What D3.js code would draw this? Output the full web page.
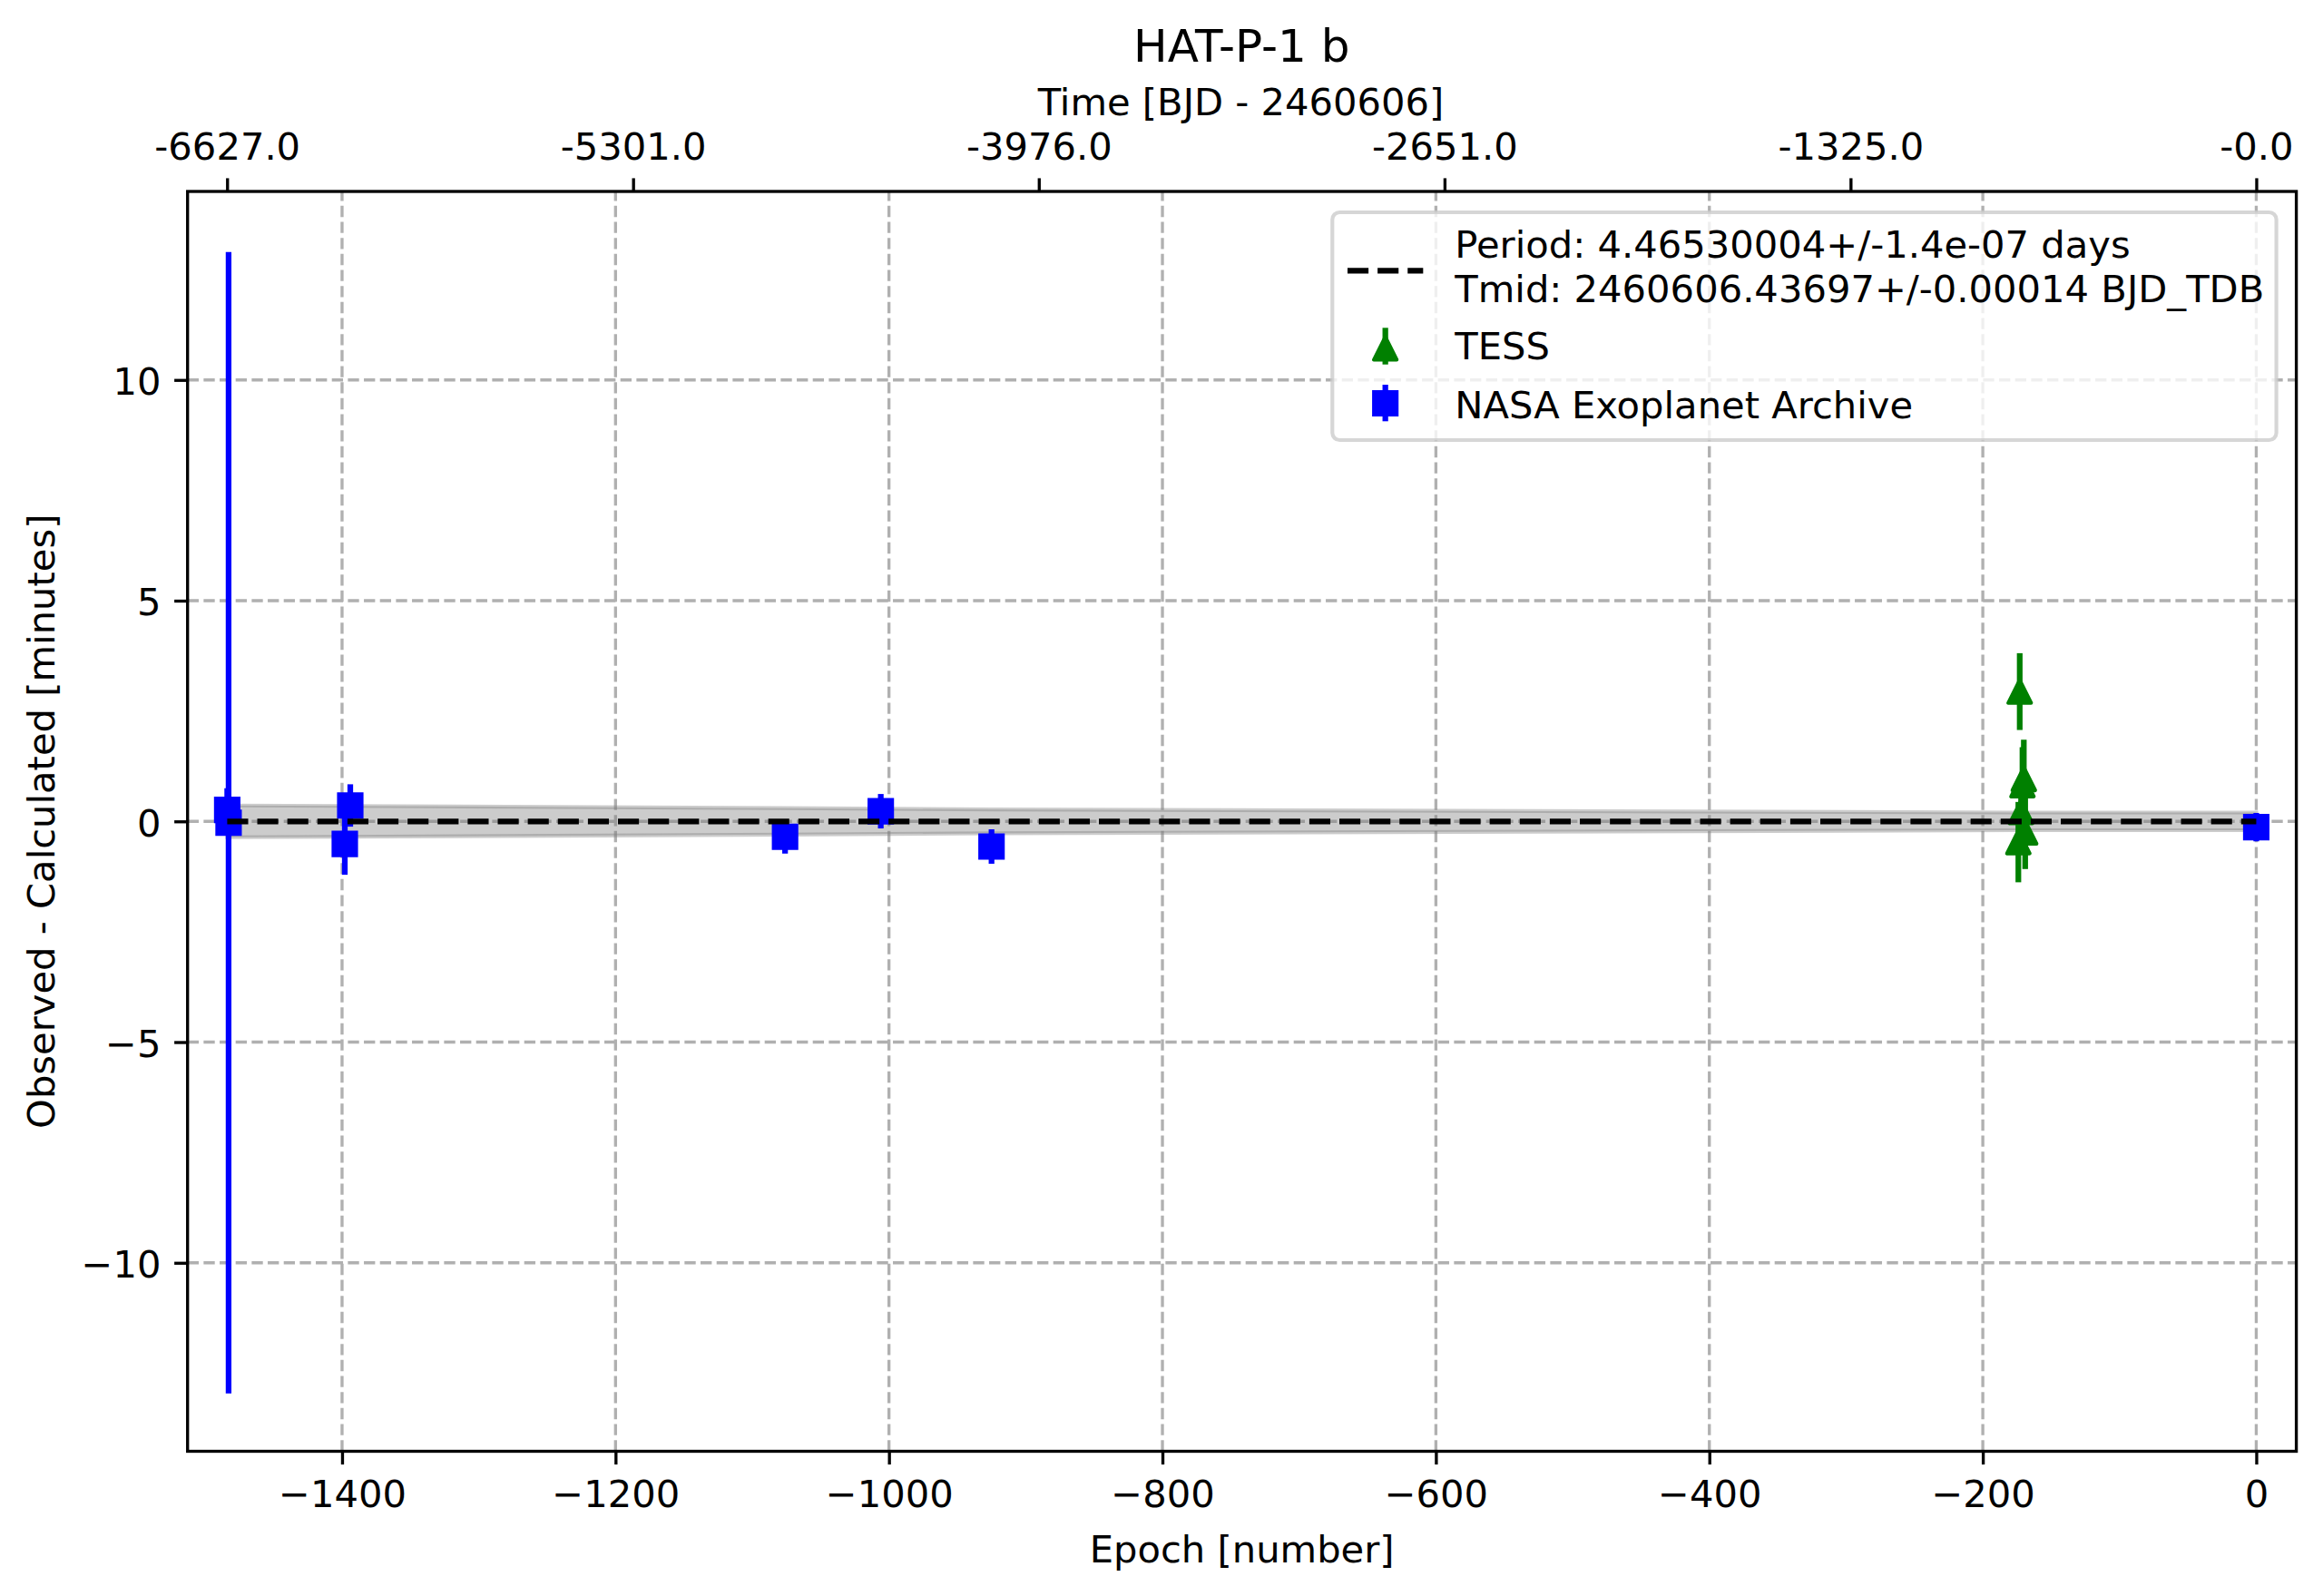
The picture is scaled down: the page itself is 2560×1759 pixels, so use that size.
<!DOCTYPE html>
<html>
<head>
<meta charset="utf-8">
<script src="https://cdn.jsdelivr.net/npm/d3@7"></script>
<style>
  body { margin: 0; background: #ffffff; }
  svg text { font-family: 'DejaVu Sans', sans-serif; fill: #000000; }
</style>
</head>
<body>
<svg id="chart" width="2560" height="1759"></svg>
<script>

var period = 4.46530004;

var nasaEpoch = [-1484, -1483, -1398, -1394, -1076, -1006, -925, 0];
var nasaOC    = [0.26, -0.03, -0.51, 0.36, -0.35, 0.23, -0.57, -0.13];
var nasaErr   = [0.49, 12.93, 0.70, 0.48, 0.38, 0.39, 0.39, 0.32];

var tessEpoch = [-174, -173, -172, -171, -170, -169];
var tessOC    = [-0.47, 2.94, 0.21, 0.82, 0.96, -0.25];
var tessErr   = [0.91, 0.87, 0.80, 0.86, 0.89, 0.83];

// ephemeris uncertainty band (minutes)
var bandEpoch = [-1484, -1398, -1076, -925, -174, 0];
var bandHalf  = [0.36, 0.35, 0.30, 0.27, 0.20, 0.20];

var fitEpoch = [-1484, 0];
var fitOC    = [0, 0];

var bottomTicks   = [-1400, -1200, -1000, -800, -600, -400, -200, 0];
var leftTicks     = [-10, -5, 0, 5, 10];
var topTickTimes  = [-6627, -5301, -3976, -2651, -1325, 0];
var topTickLabels = ["-6627.0", "-5301.0", "-3976.0", "-2651.0", "-1325.0", "-0.0"];

var legendLabels = [
  ["Period: 4.46530004+/-1.4e-07 days", "Tmid: 2460606.43697+/-0.00014 BJD_TDB"],
  ["TESS"],
  ["NASA Exoplanet Archive"]
];

//:\\\ layout //:\\\

var pt = 300 / 72;           // figure was saved at 300 dpi
var fontSize = 10 * pt;      // 41.67px
var axLeft = 206.7, axRight = 2530.6, axTop = 211, axBottom = 1599.5;

var svg = d3.select("#chart");

var x = d3.scaleLinear().domain([-1513.0, 29.3]).range([axLeft, axRight]);
var y = d3.scaleLinear().domain([-14.27, 14.27]).range([axBottom, axTop]);
var xTop = d3.scaleLinear()
             .domain(x.domain().map(function(e) { return e * period; }))
             .range(x.range());

svg.append("defs").append("clipPath").attr("id", "plotArea")
   .append("rect")
   .attr("x", axLeft).attr("y", axTop)
   .attr("width", axRight - axLeft).attr("height", axBottom - axTop);

//:\\\ grid //:\\\

var grid = svg.append("g")
              .attr("stroke", "#b0b0b0")
              .attr("stroke-width", 0.8 * pt)
              .attr("stroke-dasharray", (3.7 * 0.8 * pt) + "," + (1.6 * 0.8 * pt));

grid.selectAll(".vgrid").data(bottomTicks).enter()
    .append("line")
    .attr("x1", function(d) { return x(d); })
    .attr("x2", function(d) { return x(d); })
    .attr("y1", axBottom).attr("y2", axTop);

grid.selectAll(".hgrid").data(leftTicks).enter()
    .append("line")
    .attr("x1", axLeft).attr("x2", axRight)
    .attr("y1", function(d) { return y(d); })
    .attr("y2", function(d) { return y(d); });

//:\\\ data //:\\\

var plot = svg.append("g").attr("clip-path", "url(#plotArea)");

var band = d3.area()
             .x(function(d, i) { return x(bandEpoch[i]); })
             .y0(function(d, i) { return y(-bandHalf[i]); })
             .y1(function(d, i) { return y(bandHalf[i]); });

plot.append("path")
    .datum(bandEpoch)
    .attr("d", band)
    .attr("fill", "gray").attr("fill-opacity", 0.4)
    .attr("stroke", "gray").attr("stroke-opacity", 0.4)
    .attr("stroke-width", 1 * pt);

var markerSize = 6 * pt;

function trianglePath(s) {
  var h = s / 2;
  return "M0," + (-h) + "L" + (-h) + "," + h + "L" + h + "," + h + "Z";
}

function squarePath(s) {
  return d3.symbol().type(d3.symbolSquare).size(s * s)();
}

function drawSeries(epochs, values, errs, color, shape) {
  // error bars first, then the markers on top
  var g = plot.append("g");

  g.selectAll("line").data(epochs).enter()
   .append("line")
   .attr("x1", function(d) { return x(d); })
   .attr("x2", function(d) { return x(d); })
   .attr("y1", function(d, i) { return y(values[i] - errs[i]); })
   .attr("y2", function(d, i) { return y(values[i] + errs[i]); })
   .attr("stroke", color)
   .attr("stroke-width", 1.5 * pt);

  g.selectAll("path").data(epochs).enter()
   .append("path")
   .attr("transform", function(d, i) { return "translate(" + x(d) + "," + y(values[i]) + ")"; })
   .attr("d", shape == "square" ? squarePath(markerSize) : trianglePath(markerSize))
   .attr("fill", color)
   .attr("stroke", color)
   .attr("stroke-width", 1 * pt)
   .attr("stroke-linejoin", shape == "square" ? "miter" : "round");
}

drawSeries(tessEpoch, tessOC, tessErr, "#008000", "triangle");
drawSeries(nasaEpoch, nasaOC, nasaErr, "#0000ff", "square");

var fitLine = d3.line()
                .x(function(d, i) { return x(fitEpoch[i]); })
                .y(function(d, i) { return y(fitOC[i]); });

plot.append("path")
    .datum(fitEpoch)
    .attr("d", fitLine)
    .attr("fill", "none")
    .attr("stroke", "#000000")
    .attr("stroke-width", 1.5 * pt)
    .attr("stroke-dasharray", (3.7 * 1.5 * pt) + "," + (1.6 * 1.5 * pt));

//:\\\ axes //:\\\

var tickLen = 3.5 * pt;

function styleAxis(g) {
  g.select(".domain").remove();
  g.selectAll(".tick line").attr("stroke", "#000000").attr("stroke-width", 0.8 * pt);
  g.selectAll(".tick text").style("font-size", fontSize + "px").style("font-family", "DejaVu Sans, sans-serif");
}

var xAxis = svg.append("g")
               .attr("transform", "translate(0," + axBottom + ")")
               .call(d3.axisBottom(x).tickValues(bottomTicks).tickSize(tickLen).tickPadding(tickLen)
                       .tickFormat(d3.format("")));
styleAxis(xAxis);
xAxis.selectAll(".tick text").attr("dy", "0.77em");

var yAxis = svg.append("g")
               .attr("transform", "translate(" + axLeft + ",0)")
               .call(d3.axisLeft(y).tickValues(leftTicks).tickSize(tickLen).tickPadding(tickLen)
                       .tickFormat(d3.format("")));
styleAxis(yAxis);
yAxis.selectAll(".tick text").attr("dy", "0.38em");

var topAxis = svg.append("g")
                 .attr("transform", "translate(0," + axTop + ")")
                 .call(d3.axisTop(xTop).tickValues(topTickTimes).tickSize(tickLen).tickPadding(tickLen)
                         .tickFormat(function(d, i) { return topTickLabels[i]; }));
styleAxis(topAxis);
topAxis.selectAll(".tick text").attr("dy", "-0.15em");

svg.append("rect")
   .attr("x", axLeft).attr("y", axTop)
   .attr("width", axRight - axLeft).attr("height", axBottom - axTop)
   .attr("fill", "none")
   .attr("stroke", "#000000")
   .attr("stroke-width", 0.8 * pt);

//:\\\ labels //:\\\

svg.append("text")
   .attr("x", 1368.3).attr("y", 68.3)
   .attr("text-anchor", "middle")
   .style("font-size", (12 * pt) + "px")
   .text("HAT-P-1 b");

svg.append("text")
   .attr("x", 1367.5).attr("y", 126.7)
   .attr("text-anchor", "middle")
   .style("font-size", fontSize + "px")
   .text("Time [BJD - 2460606]");

svg.append("text")
   .attr("x", (axLeft + axRight) / 2).attr("y", 1721.7)
   .attr("text-anchor", "middle")
   .style("font-size", fontSize + "px")
   .text("Epoch [number]");

svg.append("text")
   .attr("transform", "translate(60," + ((axTop + axBottom) / 2) + ") rotate(-90)")
   .attr("text-anchor", "middle")
   .style("font-size", fontSize + "px")
   .text("Observed - Calculated [minutes]");

//:\\\ legend //:\\\

var legend = svg.append("g");

legend.append("rect")
      .attr("x", 1468.3).attr("y", 234)
      .attr("width", 2508.6 - 1468.3).attr("height", 485 - 234)
      .attr("rx", 8).attr("ry", 8)
      .attr("fill", "#ffffff").attr("fill-opacity", 0.8)
      .attr("stroke", "#cccccc").attr("stroke-opacity", 0.8)
      .attr("stroke-width", 1 * pt);

legend.append("line")
      .attr("x1", 1485).attr("x2", 1485 + 2 * fontSize)
      .attr("y1", 298.3).attr("y2", 298.3)
      .attr("stroke", "#000000")
      .attr("stroke-width", 1.5 * pt)
      .attr("stroke-dasharray", (3.7 * 1.5 * pt) + "," + (1.6 * 1.5 * pt));

var hx = 1485 + fontSize;

legend.append("line")
      .attr("x1", hx).attr("x2", hx).attr("y1", 361.3).attr("y2", 401.7)
      .attr("stroke", "#008000").attr("stroke-width", 1.5 * pt);
legend.append("path")
      .attr("transform", "translate(" + hx + ",384)")
      .attr("d", trianglePath(markerSize))
      .attr("fill", "#008000").attr("stroke", "#008000")
      .attr("stroke-width", 1 * pt).attr("stroke-linejoin", "round");

legend.append("line")
      .attr("x1", hx).attr("x2", hx).attr("y1", 424).attr("y2", 464.3)
      .attr("stroke", "#0000ff").attr("stroke-width", 1.5 * pt);
legend.append("path")
      .attr("transform", "translate(" + hx + ",444.5)")
      .attr("d", squarePath(markerSize))
      .attr("fill", "#0000ff").attr("stroke", "#0000ff")
      .attr("stroke-width", 1 * pt);

var baselines = [[284, 333.3], [396], [460.7]];

legendLabels.forEach(function(lines, i) {
  lines.forEach(function(line, j) {
    legend.append("text")
          .attr("x", 1603.3).attr("y", baselines[i][j])
          .style("font-size", fontSize + "px")
          .text(line);
  });
});
</script>
</body>
</html>
